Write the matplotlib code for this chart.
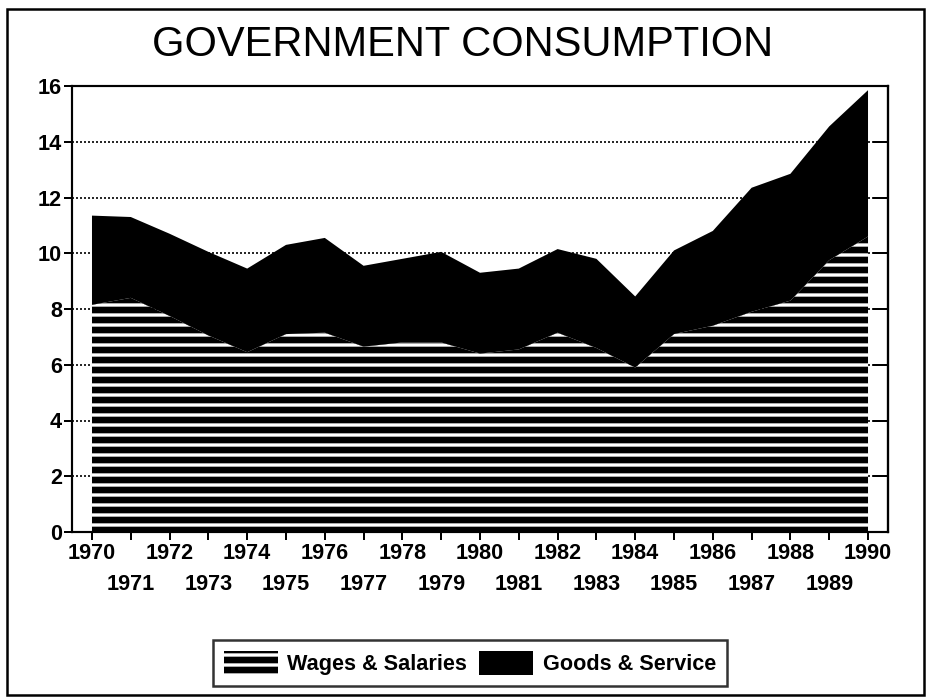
import numpy as np
import matplotlib
matplotlib.use("Agg")
import matplotlib.pyplot as plt
from matplotlib.patches import Patch, Rectangle

years = list(range(1970, 1991))
wages = [8.15, 8.4, 7.75, 7.05, 6.45, 7.1, 7.15, 6.65, 6.8, 6.8, 6.4,
         6.55, 7.15, 6.6, 5.9, 7.1, 7.4, 7.9, 8.3, 9.75, 10.6]
goods = [3.2, 2.9, 2.95, 3.0, 3.0, 3.2, 3.4, 2.9, 3.0, 3.25, 2.9,
         2.9, 3.0, 3.2, 2.55, 3.0, 3.4, 4.45, 4.55, 4.8, 5.25]
series_labels = ["Wages & Salaries", "Goods & Service"]
yticks = [0, 2, 4, 6, 8, 10, 12, 14, 16]
title = "GOVERNMENT CONSUMPTION"

plt.rcParams['font.family'] = ['Liberation Sans', 'DejaVu Sans']
plt.rcParams['hatch.color'] = 'white'
plt.rcParams['hatch.linewidth'] = 2.0

DPI = 120
fig = plt.figure(figsize=(926 / DPI, 697 / DPI), dpi=DPI)
ax = fig.add_axes([72 / 926, 1 - 532 / 697, (888 - 72) / 926, (532 - 86) / 697])

polys = ax.stackplot(years, wages, goods, colors=['black', 'black'], zorder=2)
polys[0].set_hatch('--')
polys[0].set_edgecolor('white')
polys[0].set_linewidth(0)
polys[1].set_linewidth(0)

ax.set_xlim(1969.485, 1990.515)
ax.set_ylim(0, 16)

ax.set_yticks(yticks)
ax.set_yticklabels([str(v) for v in yticks])
ax.yaxis.grid(True, linestyle=(0, (1.2, 1.2)), color='black', linewidth=1.0)
ax.set_axisbelow(True)

even = [y for y in years if y % 2 == 0]
odd = [y for y in years if y % 2 == 1]
ax.set_xticks(even)
ax.set_xticklabels([str(y) for y in even])
ax.set_xticks(odd, minor=True)
ax.set_xticklabels([str(y) for y in odd], minor=True)

lab_font = dict(fontsize=13, fontweight='bold')
for lbl in ax.get_xticklabels(which='both') + ax.get_yticklabels():
    lbl.set_fontsize(13)
    lbl.set_fontweight('bold')

ax.tick_params(axis='x', which='major', direction='out', length=4.5, width=1.2, pad=2)
ax.tick_params(axis='x', which='minor', direction='out', length=4.5, width=1.2, pad=21)
ax.tick_params(axis='y', which='major', direction='out', length=5, width=1.2, pad=1)

sec = ax.secondary_yaxis('right')
sec.set_yticks(yticks)
sec.tick_params(direction='in', length=9, width=1.2, labelright=False)
sec.spines['right'].set_linewidth(1.3)

for s in ax.spines.values():
    s.set_linewidth(1.3)
    s.set_color('black')

fig.text(0.5, 1 - 45 / 697, title, ha='center', va='center', fontsize=25)

handles = [Patch(facecolor='black', edgecolor='white', hatch='--', linewidth=0),
           Patch(facecolor='black', edgecolor='black', linewidth=0)]
leg = fig.legend(handles, series_labels, loc='center',
                 bbox_to_anchor=(470 / 926, 1 - 663 / 697), ncol=2,
                 frameon=True, fancybox=False, edgecolor='black',
                 prop=dict(size=13, weight='bold'), handlelength=2.5,
                 handleheight=1.35, handletextpad=0.45, columnspacing=0.55,
                 borderpad=0.5, borderaxespad=0)
leg.get_frame().set_linewidth(1.5)

fig.patches.append(Rectangle((7 / 926, 2 / 697), 917 / 926, 686 / 697,
                             transform=fig.transFigure, fill=False,
                             edgecolor='black', linewidth=1.5))

fig.savefig("out.png", dpi=DPI)
